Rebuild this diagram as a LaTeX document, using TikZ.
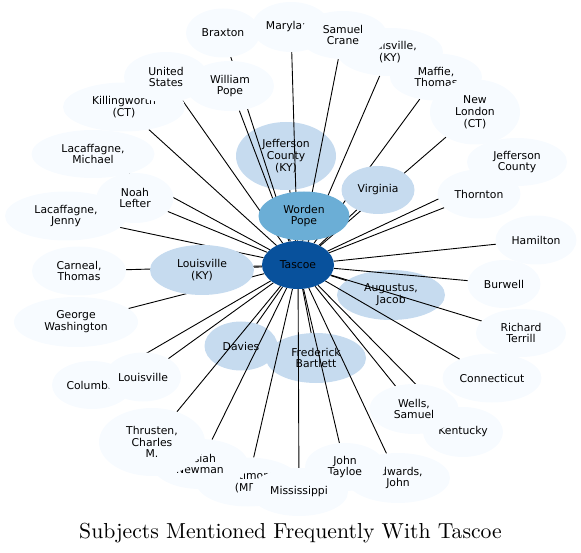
\documentclass[tikz,border=0pt]{standalone}
\usepackage{fontspec}
\newfontfamily\subjFont{DejaVu Sans}
\newfontfamily\captionFont{lmroman10-regular}[Extension=.otf]
\usetikzlibrary{shapes.geometric}
\definecolor{tascoeBlue}{HTML}{08519C}
\definecolor{popeBlue}{HTML}{6BAED6}
\definecolor{nearBlue}{HTML}{C6DBEF}
\definecolor{farBlue}{HTML}{F7FBFF}
\pgfdeclarelayer{under}
\pgfdeclarelayer{wires}
\pgfsetlayers{under,wires,main}
\tikzset{
  subj/.style={ellipse, inner sep=0pt, align=center, font=\subjFont\fontsize{10.8}{11.8}\selectfont},
  far/.style={subj, fill=farBlue},
  near/.style={subj, fill=nearBlue},
  sz/.style 2 args={minimum width=#1pt, minimum height=#2pt},
  wire/.style={draw=black, line width=0.9pt},
}

\begin{document}
\begin{tikzpicture}[x=1pt,y=-1pt]
\useasboundingbox (0,0) rectangle (581,553);
% subjects lying under the edges
\begin{pgfonlayer}{under}
\node[near, sz={100}{68}] (jeffKY) at (286,156) {Jefferson\\County\\(KY)};
\node[near, sz={108}{50}] (augJacob) at (391,295) {Augustus,\\Jacob};
\node[near, sz={73}{49}] (davies) at (241,346) {Davies};
\node[near, sz={100}{50}] (fredBartlett) at (316,358) {Frederick\\Bartlett};
\end{pgfonlayer}
% outer ring
\node[far, sz={74}{49}] (braxton) at (223,33) {Braxton};
\node[far, sz={78}{50}] (maryland) at (291,27) {Maryland};
\node[far, sz={106}{48}] (louKYtop) at (390,52) {Louisville,\\(KY)};
\node[far, sz={88}{48}] (samCrane) at (343,35) {Samuel\\Crane};
\node[far, sz={92}{47}] (maffie) at (436,77) {Maffie,\\Thomas};
\node[far, sz={90}{65}] (newLondon) at (475,112) {New\\London\\(CT)};
\node[far, sz={100}{48}] (jeffCounty) at (517,162) {Jefferson\\County};
\node[far, sz={83}{49}] (thornton) at (479,194) {Thornton};
\node[far, sz={81}{49}] (hamilton) at (536,240) {Hamilton};
\node[far, sz={73}{48}] (burwell) at (504,284) {Burwell};
\node[far, sz={90}{48}] (richTerrill) at (521,333) {Richard\\Terrill};
\node[far, sz={99}{49}] (connecticut) at (492,378) {Connecticut};
\node[far, sz={80}{50}] (kentucky) at (463,432) {Kentucky};
\node[far, sz={89}{50}] (wells) at (414,409) {Wells,\\Samuel};
\node[far, sz={104}{50}] (edwards) at (398,478) {Edwards,\\John};
\node[far, sz={80}{48}] (johnTayloe) at (345,467) {John\\Tayloe};
\node[far, sz={104}{49}] (baltimore) at (248,482) {Baltimore\\(MD)};
\node[far, sz={98}{48}] (mississippi) at (299,492) {Mississippi};
\node[far, sz={96}{50}] (josiah) at (200,464) {Josiah\\Newman};
\node[far, sz={106}{68}] (thrusten) at (152,442) {Thrusten,\\Charles\\M.};
\node[far, sz={80}{48}] (columbia) at (92,385) {Columbia};
\node[far, sz={76}{49}] (louisville) at (143,377) {Louisville};
\node[far, sz={124}{50}] (georgeW) at (76,322) {George\\Washington};
\node[far, sz={94}{49}] (carneal) at (79,271) {Carneal,\\Thomas};
\node[far, sz={122}{49}] (lacJenny) at (66,216) {Lacaffagne,\\Jenny};
\node[far, sz={123}{48}] (lacMichael) at (93,154) {Lacaffagne,\\Michael};
\node[far, sz={77}{50}] (noahLefter) at (135,198) {Noah\\Lefter};
\node[far, sz={122}{49}] (killingworth) at (124,107) {Killingworth\\(CT)};
\node[far, sz={84}{50}] (unitedStates) at (166,77) {United\\States};
\node[far, sz={88}{50}] (williamPope) at (230,86) {William\\Pope};
% inner ring
\node[near, sz={73}{48}] (virginia) at (378,190) {Virginia};
\node[near, sz={104}{50}] (louKY) at (202,270) {Louisville\\(KY)};
\node[subj, fill=popeBlue, sz={91}{49}] (wordenPope) at (304,216) {Worden\\Pope};
\node[subj, fill=tascoeBlue, sz={72}{48}] (tascoe) at (298,265) {Tascoe};
% edges
\begin{pgfonlayer}{wires}
\draw[wire] (tascoe) -- (braxton);
\draw[wire] (tascoe) -- (maryland);
\draw[wire] (tascoe) -- (samCrane);
\draw[wire] (tascoe) -- (louKYtop);
\draw[wire] (tascoe) -- (maffie);
\draw[wire] (tascoe) -- (newLondon);
\draw[wire] (tascoe) -- (jeffCounty);
\draw[wire] (tascoe) -- (thornton);
\draw[wire] (tascoe) -- (hamilton);
\draw[wire] (tascoe) -- (burwell);
\draw[wire] (tascoe) -- (richTerrill);
\draw[wire] (tascoe) -- (connecticut);
\draw[wire] (tascoe) -- (kentucky);
\draw[wire] (tascoe) -- (wells);
\draw[wire] (tascoe) -- (edwards);
\draw[wire] (tascoe) -- (johnTayloe);
\draw[wire] (tascoe) -- (mississippi);
\draw[wire] (tascoe) -- (baltimore);
\draw[wire] (tascoe) -- (josiah);
\draw[wire] (tascoe) -- (thrusten);
\draw[wire] (tascoe) -- (louisville);
\draw[wire] (tascoe) -- (columbia);
\draw[wire] (tascoe) -- (georgeW);
\draw[wire] (tascoe) -- (carneal);
\draw[wire] (tascoe) -- (lacJenny);
\draw[wire] (tascoe) -- (noahLefter);
\draw[wire] (tascoe) -- (lacMichael);
\draw[wire] (tascoe) -- (killingworth);
\draw[wire] (tascoe) -- (unitedStates);
\draw[wire] (tascoe) -- (williamPope);
\draw[wire] (tascoe) -- (jeffKY);
\draw[wire] (tascoe) -- (wordenPope);
\draw[wire] (tascoe) -- (virginia);
\draw[wire] (tascoe) -- (louKY);
\draw[wire] (tascoe) -- (augJacob);
\draw[wire] (tascoe) -- (davies);
\draw[wire] (tascoe) -- (fredBartlett);
\end{pgfonlayer}
% caption
\node[anchor=base, inner sep=0pt, font=\captionFont\fontsize{21.7}{24}\selectfont] (title) at (290.5,538.3) {Subjects Mentioned Frequently With Tascoe};
\end{tikzpicture}
\end{document}
